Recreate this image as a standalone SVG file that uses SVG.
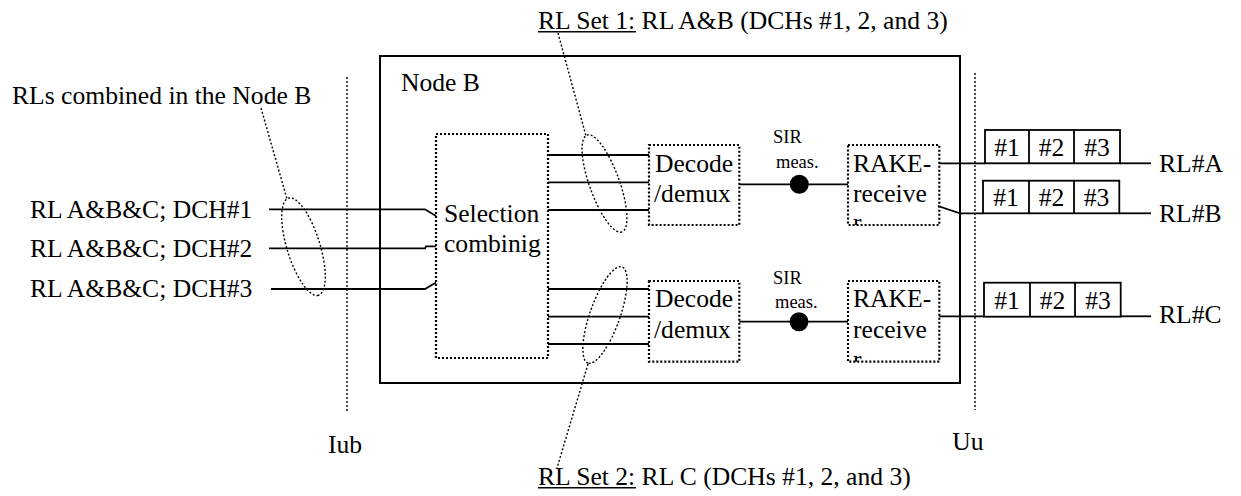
<svg xmlns="http://www.w3.org/2000/svg" width="1241" height="496" viewBox="0 0 1241 496">
<style>
text{font-family:"Liberation Serif","Times New Roman",serif;font-size:25.6px;fill:#000}
.sm{font-size:18.5px}
.mid{text-anchor:middle}
.solid{fill:none;stroke:#000;stroke-width:2}
.ln{fill:none;stroke:#000;stroke-width:1.8}
.dotbox{fill:none;stroke:#000;stroke-width:2.2;stroke-dasharray:2,2}
.dot{fill:none;stroke:#000;stroke-width:1.4;stroke-dasharray:2,2}
</style>
<defs>
<clipPath id="clipRakeTop"><rect x="848" y="145" width="91" height="80"/></clipPath>
<clipPath id="clipRakeBot"><rect x="848" y="281" width="91" height="80.7"/></clipPath>
</defs>
<rect width="1241" height="496" fill="#fff"/>

<g id="interfaces">
<line class="dot" x1="347" y1="77" x2="347" y2="413"/>
<line class="dot" x1="975" y1="73" x2="975" y2="410"/>
<text id="iub" x="345" y="453" class="mid">Iub</text>
<text id="uu" x="968" y="450" class="mid">Uu</text>
</g>

<g id="nodeB">
<rect class="solid" x="380" y="56" width="580" height="327"/>
<text x="401" y="91">Node B</text>
</g>

<g id="selection">
<rect class="dotbox" x="436" y="134" width="112" height="224"/>
<text x="444" y="221.5">Selection</text>
<text x="444" y="252">combinig</text>
</g>

<g id="decode1">
<rect class="dotbox" x="649" y="145" width="90.3" height="80"/>
<text x="655" y="172.3">Decode</text>
<text x="654" y="201.7">/demux</text>
</g>
<g id="decode2">
<rect class="dotbox" x="649" y="281" width="90.3" height="80.7"/>
<text x="655" y="307">Decode</text>
<text x="654" y="338.3">/demux</text>
</g>

<g id="rake1">
<rect class="dotbox" x="848" y="145" width="91.3" height="80"/>
<text x="853" y="172.3">RAKE-</text>
<text x="853" y="201.7">receive</text>
<text x="853" y="231" clip-path="url(#clipRakeTop)">r</text>
</g>
<g id="rake2">
<rect class="dotbox" x="848" y="281" width="91.3" height="80.7"/>
<text x="853" y="307">RAKE-</text>
<text x="853" y="338.3">receive</text>
<text x="853" y="368" clip-path="url(#clipRakeBot)">r</text>
</g>

<g id="sir1">
<circle cx="799.3" cy="184.3" r="9.5" fill="#000"/>
<text class="sm" x="773" y="143">SIR</text>
<text class="sm" x="776" y="168.3">meas.</text>
</g>
<g id="sir2">
<circle cx="799" cy="321.7" r="9.5" fill="#000"/>
<text class="sm" x="773" y="284">SIR</text>
<text class="sm" x="775" y="308.3">meas.</text>
</g>

<g id="rlA">
<rect class="ln" x="985" y="130" width="135" height="33.3"/>
<line class="ln" x1="1029" y1="130" x2="1029" y2="163.3"/>
<line class="ln" x1="1074" y1="130" x2="1074" y2="163.3"/>
<text class="mid" x="1007" y="155.5">#1</text>
<text class="mid" x="1051.5" y="155.5">#2</text>
<text class="mid" x="1097" y="155.5">#3</text>
<text x="1159" y="172">RL#A</text>
</g>
<g id="rlB">
<rect class="ln" x="983" y="180.7" width="136.3" height="32.6"/>
<line class="ln" x1="1029" y1="180.7" x2="1029" y2="213.3"/>
<line class="ln" x1="1074" y1="180.7" x2="1074" y2="213.3"/>
<text class="mid" x="1006" y="206">#1</text>
<text class="mid" x="1051.5" y="206">#2</text>
<text class="mid" x="1096.5" y="206">#3</text>
<text x="1159" y="221.7">RL#B</text>
</g>
<g id="rlC">
<rect class="ln" x="984" y="282.7" width="136.7" height="34"/>
<line class="ln" x1="1030" y1="282.7" x2="1030" y2="316.7"/>
<line class="ln" x1="1075" y1="282.7" x2="1075" y2="316.7"/>
<text class="mid" x="1007" y="308.5">#1</text>
<text class="mid" x="1052.5" y="308.5">#2</text>
<text class="mid" x="1098" y="308.5">#3</text>
<text x="1159" y="323.3">RL#C</text>
</g>

<g id="inputs">
<text x="30" y="218">RL A&amp;B&amp;C; DCH#1</text>
<text x="30" y="257">RL A&amp;B&amp;C; DCH#2</text>
<text x="30" y="296.5">RL A&amp;B&amp;C; DCH#3</text>
</g>

<g id="labels">
<text x="12" y="104">RLs combined in the Node B</text>
<text x="538" y="29">RL Set 1: RL A&amp;B (DCHs #1, 2, and 3)</text>
<line x1="538" y1="31.8" x2="636" y2="31.8" stroke="#000" stroke-width="1.5"/>
<text x="538" y="485">RL Set 2: RL C (DCHs #1, 2, and 3)</text>
<line x1="538" y1="487.8" x2="636" y2="487.8" stroke="#000" stroke-width="1.5"/>
</g>

<g id="connectors">
<polyline class="ln" points="269,209.3 425,209.3 436,216"/>
<polyline class="ln" points="269,248.3 425,248.3 426,246.3 436,246.3"/>
<polyline class="ln" points="271,289 425,289 436,282.5"/>
<line class="ln" x1="548" y1="155" x2="649" y2="155"/>
<line class="ln" x1="548" y1="182.3" x2="649" y2="182.3"/>
<line class="ln" x1="548" y1="210" x2="649" y2="210"/>
<line class="ln" x1="548" y1="289" x2="649" y2="289"/>
<line class="ln" x1="548" y1="316.7" x2="649" y2="316.7"/>
<line class="ln" x1="548" y1="344" x2="649" y2="344"/>
<line class="ln" x1="739.3" y1="184.3" x2="848" y2="184.3"/>
<line class="ln" x1="739.3" y1="321.7" x2="848" y2="321.7"/>
<line class="ln" x1="939.3" y1="163.3" x2="985" y2="163.3"/>
<line class="ln" x1="1120" y1="163.3" x2="1151" y2="163.3"/>
<polyline class="ln" points="938,206 960,213.3 983,213.3"/>
<line class="ln" x1="1119.3" y1="213.3" x2="1151" y2="213.3"/>
<line class="ln" x1="939.3" y1="316.3" x2="984" y2="316.3"/>
<line class="ln" x1="1120.7" y1="316.3" x2="1151" y2="316.3"/>
<ellipse class="dot" cx="303.5" cy="246.7" rx="50.8" ry="16.5" transform="rotate(72.8 303.5 246.7)"/>
<line class="dot" x1="261" y1="108" x2="287" y2="199"/>
<ellipse class="dot" cx="604.5" cy="183.5" rx="51.5" ry="15" transform="rotate(70.2 604.5 183.5)"/>
<line class="dot" x1="558" y1="33" x2="586" y2="136"/>
<ellipse class="dot" cx="605" cy="315" rx="51" ry="15" transform="rotate(109.5 605 315)"/>
<line class="dot" x1="588" y1="364" x2="557" y2="468"/>
</g>
</svg>
